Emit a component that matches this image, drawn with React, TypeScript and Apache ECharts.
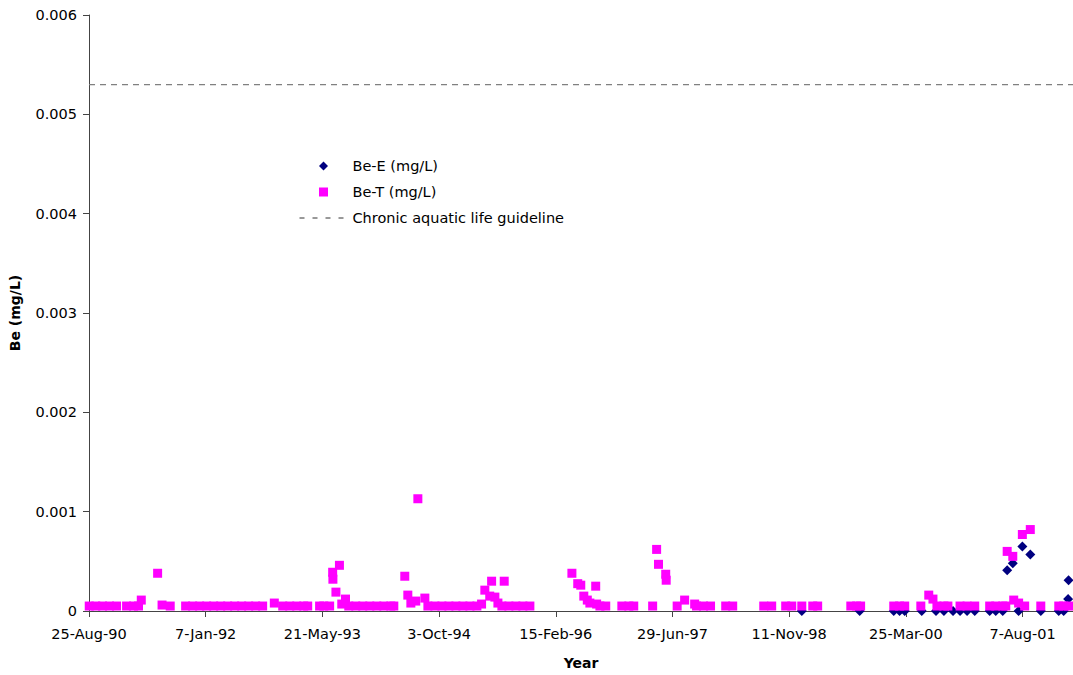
import React, { useEffect, useRef } from "react";
import * as echarts from "echarts";

const axisStartDate = "1990-08-25";
const axisEndDate = "2002-03-11";
const xTickDays = 500;
const yMin = 0;
const yMax = 0.006;
const yStep = 0.001;
const guidelineValue = 0.0053;

const seriesNames = ["Be-E (mg/L)", "Be-T (mg/L)", "Chronic aquatic life guideline"];
const monthNames = ["Jan", "Feb", "Mar", "Apr", "May", "Jun", "Jul", "Aug", "Sep", "Oct", "Nov", "Dec"];

const beEDates = [
  "1999-01-04", "1999-09-09", "2000-02-02", "2000-02-27", "2000-03-20", "2000-06-01",
  "2000-08-01", "2000-09-04", "2000-10-13", "2000-11-12", "2000-12-12", "2001-01-14",
  "2001-03-19", "2001-04-14", "2001-05-14", "2001-06-02", "2001-06-26", "2001-07-21",
  "2001-08-06", "2001-09-09", "2001-10-24", "2002-01-09", "2002-01-30", "2002-02-18",
  "2002-02-20",
];
const beEValues = [
  0, 0, 0, 0, 0, 0,
  0, 0, 0, 0, 0, 0,
  0, 0, 0, 0.00041, 0.00048, 0,
  0.00065, 0.00057, 0, 0, 0, 0.00012,
  0.00031,
];

const beTDates = [
  "1990-08-26", "1990-09-23", "1990-10-22", "1990-11-21", "1990-12-21", "1991-02-02",
  "1991-03-04", "1991-03-25", "1991-04-06", "1991-06-15", "1991-07-04", "1991-08-08",
  "1991-10-13", "1991-11-12", "1991-12-12", "1992-01-11", "1992-02-10", "1992-03-11",
  "1992-04-10", "1992-05-10", "1992-06-09", "1992-07-09", "1992-08-08", "1992-09-07",
  "1992-10-27", "1992-12-02", "1993-01-01", "1993-01-31", "1993-03-02", "1993-03-19",
  "1993-05-09", "1993-05-27", "1993-06-21", "1993-07-04", "1993-07-05", "1993-07-18",
  "1993-08-02", "1993-08-12", "1993-08-28", "1993-09-11", "1993-10-11", "1993-11-10",
  "1993-12-10", "1994-01-09", "1994-02-08", "1994-03-10", "1994-03-23", "1994-05-09",
  "1994-05-22", "1994-06-04", "1994-06-25", "1994-07-04", "1994-08-03", "1994-08-16",
  "1994-09-15", "1994-10-15", "1994-11-14", "1994-12-14", "1995-01-13", "1995-02-12",
  "1995-03-14", "1995-04-03", "1995-04-17", "1995-05-08", "1995-05-16", "1995-05-30",
  "1995-06-12", "1995-06-29", "1995-07-09", "1995-07-29", "1995-08-28", "1995-09-27",
  "1995-10-27", "1996-04-24", "1996-05-19", "1996-06-01", "1996-06-14", "1996-06-29",
  "1996-07-10", "1996-08-04", "1996-08-08", "1996-08-22", "1996-09-16", "1996-11-24",
  "1996-12-24", "1997-01-14", "1997-04-05", "1997-04-22", "1997-04-30", "1997-05-31",
  "1997-06-02", "1997-07-19", "1997-08-20", "1997-10-02", "1997-10-10", "1997-11-09",
  "1997-12-09", "1998-02-12", "1998-03-14", "1998-07-25", "1998-08-28", "1998-10-27",
  "1998-11-22", "1999-01-04", "1999-02-20", "1999-03-13", "1999-08-02", "1999-08-27",
  "1999-09-13", "2000-02-02", "2000-02-27", "2000-03-20", "2000-05-28", "2000-07-01",
  "2000-07-19", "2000-08-05", "2000-09-04", "2000-09-21", "2000-11-12", "2000-12-12",
  "2001-01-14", "2001-03-19", "2001-04-14", "2001-05-14", "2001-05-27", "2001-06-02",
  "2001-06-26", "2001-06-30", "2001-07-21", "2001-08-06", "2001-08-16", "2001-09-09",
  "2001-10-24", "2002-01-09", "2002-01-30", "2002-02-20",
];
const beTValues = [
  0.00005, 0.00005, 0.00005, 0.00005, 0.00005, 0.00005,
  0.00005, 0.00005, 0.00011, 0.00038, 0.00006, 0.00005,
  0.00005, 0.00005, 0.00005, 0.00005, 0.00005, 0.00005,
  0.00005, 0.00005, 0.00005, 0.00005, 0.00005, 0.00005,
  0.00008, 0.00005, 0.00005, 0.00005, 0.00005, 0.00005,
  0.00005, 0.00005, 0.00005, 0.00039, 0.00032, 0.00019,
  0.00046, 0.00007, 0.00012, 0.00005, 0.00005, 0.00005,
  0.00005, 0.00005, 0.00005, 0.00005, 0.00005, 0.00035,
  0.00016, 0.00008, 0.0001, 0.00113, 0.00013, 0.00005,
  0.00005, 0.00005, 0.00005, 0.00005, 0.00005, 0.00005,
  0.00005, 0.00007, 0.00021, 0.00015, 0.0003, 0.00014,
  0.00008, 0.00005, 0.0003, 0.00005, 0.00005, 0.00005,
  0.00005, 0.00038, 0.000275, 0.00026, 0.00015, 0.00011,
  0.00008, 0.00025, 0.00007, 0.00005, 0.00005, 0.00005,
  0.00005, 0.00005, 0.00005, 0.00062, 0.00047, 0.00037,
  0.00031, 0.00005, 0.00011, 0.00007, 0.00005, 0.00005,
  0.00005, 0.00005, 0.00005, 0.00005, 0.00005, 0.00005,
  0.00005, 0.00005, 0.00005, 0.00005, 0.00005, 0.00005,
  0.00005, 0.00005, 0.00005, 0.00005, 0.00005, 0.00016,
  0.00012, 0.00005, 0.00005, 0.00005, 0.00005, 0.00005,
  0.00005, 0.00005, 0.00005, 0.00005, 0.00005, 0.0006,
  0.00055, 0.00011, 0.00008, 0.00077, 0.00005, 0.00082,
  0.00005, 0.00005, 0.00005, 0.00005,
];

const DAY = 86400000;
const toUtc = (s: string) => {
  const [y, m, d] = s.split("-").map(Number);
  return Date.UTC(y, m - 1, d);
};
const originMs = toUtc(axisStartDate);
const toDays = (s: string) => Math.round((toUtc(s) - originMs) / DAY);
const formatDay = (days: number) => {
  const dt = new Date(originMs + Math.round(days) * DAY);
  const yy = String(dt.getUTCFullYear() % 100).padStart(2, "0");
  return `${dt.getUTCDate()}-${monthNames[dt.getUTCMonth()]}-${yy}`;
};

const FONT = "DejaVu Sans";
// legend icons: marker centred in a 48x9 box (zero-length corner strokes fix the box)
const diamondIcon = "path://M0,0L0,0M48,9L48,9M24,-0.3L28.8,4.5L24,9.3L19.2,4.5Z";
const squareIcon = "path://M0,0L0,0M48,9L48,9M19.5,0L28.5,0L28.5,9L19.5,9Z";

export default function App() {
  const ref = useRef<HTMLDivElement>(null);
  useEffect(() => {
    if (!ref.current) return;
    const chart = echarts.init(ref.current, null, { renderer: "svg" });
    const xMax = toDays(axisEndDate);
    const beE = beEDates.map((d, i) => [toDays(d), beEValues[i]]);
    const beT = beTDates.map((d, i) => [toDays(d), beTValues[i]]);
    chart.setOption({
      animation: false,
      backgroundColor: "#ffffff",
      grid: { left: 89, right: 0, top: 15, bottom: 64, containLabel: false },
      legend: {
        orient: "vertical",
        left: 294,
        top: 153,
        padding: 5,
        itemWidth: 48,
        itemHeight: 9,
        itemGap: 10,
        selectedMode: false,
        textStyle: { fontFamily: FONT, fontSize: 14.5, color: "#000", lineHeight: 16 },
        data: [
          { name: seriesNames[0], icon: diamondIcon },
          { name: seriesNames[1], icon: squareIcon },
          { name: seriesNames[2], itemStyle: { opacity: 0 }, lineStyle: { type: [5, 8], color: "#333", width: 1 } },
        ],
      },
      xAxis: {
        type: "value",
        min: 0,
        max: xMax,
        interval: xTickDays,
        name: "Year",
        nameLocation: "middle",
        nameGap: 45,
        nameTextStyle: { fontFamily: FONT, fontSize: 14, fontWeight: "bold", color: "#000" },
        axisLine: { show: true, onZero: false, lineStyle: { color: "#444", width: 1 } },
        axisTick: { show: true, inside: false, length: 6, lineStyle: { color: "#444" } },
        axisLabel: {
          fontFamily: FONT,
          fontSize: 14.5,
          color: "#000",
          margin: 15,
          showMaxLabel: false,
          formatter: (v: number) => formatDay(v),
        },
        splitLine: { show: false },
      },
      yAxis: {
        type: "value",
        min: yMin,
        max: yMax,
        interval: yStep,
        name: "Be (mg/L)",
        nameLocation: "middle",
        nameGap: 67,
        nameRotate: 90,
        nameTextStyle: { fontFamily: FONT, fontSize: 14, fontWeight: "bold", color: "#000" },
        axisLine: { show: true, lineStyle: { color: "#444", width: 1 } },
        axisTick: { show: true, inside: false, length: 6, lineStyle: { color: "#444" } },
        axisLabel: {
          fontFamily: FONT,
          fontSize: 14.5,
          color: "#000",
          margin: 12,
          formatter: (v: number) => (v === 0 ? "0" : v.toFixed(3)),
        },
        splitLine: { show: false },
      },
      series: [
        {
          name: seriesNames[0],
          type: "scatter",
          symbol: "diamond",
          symbolSize: 10,
          clip: false,
          itemStyle: { color: "#000080", opacity: 1 },
          data: beE,
          z: 3,
        },
        {
          name: seriesNames[1],
          type: "scatter",
          symbol: "rect",
          symbolSize: 9,
          clip: false,
          itemStyle: { color: "#ff00ff", opacity: 1 },
          data: beT,
          z: 4,
        },
        {
          name: seriesNames[2],
          type: "line",
          symbol: "none",
          showSymbol: false,
          lineStyle: { type: [6, 5], color: "#808080", width: 1.3 },
          data: [
            [0, guidelineValue],
            [xMax, guidelineValue],
          ],
          z: 2,
        },
      ],
    });
    return () => chart.dispose();
  }, []);
  return (
    <div
      ref={ref}
      style={{ position: "absolute", left: 0, top: 0, width: 1073, height: 675, background: "#fff" }}
    />
  );
}
